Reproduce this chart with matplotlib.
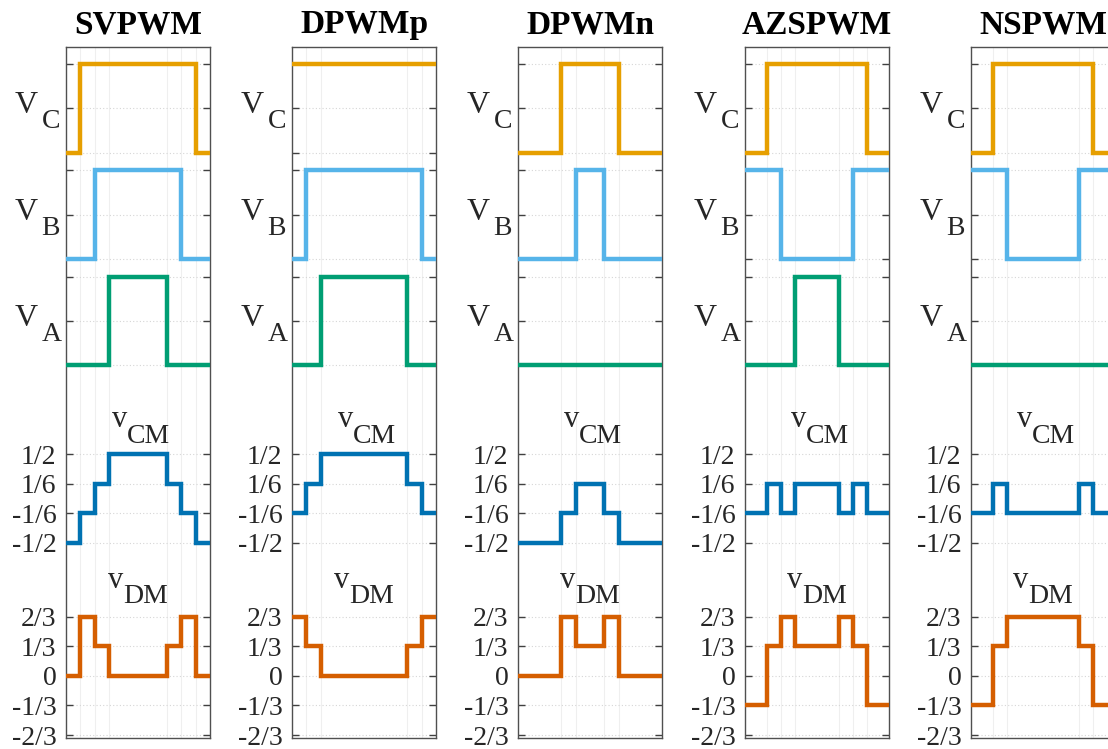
import matplotlib
matplotlib.use("Agg")
import matplotlib.pyplot as plt

plt.rcParams['font.family'] = ['Liberation Serif', 'DejaVu Serif']

# ---- data ----
schemes = ["SVPWM", "DPWMp", "DPWMn", "AZSPWM", "NSPWM"]

times = {
    "SVPWM":  [0, 0.1, 0.2, 0.3, 0.7, 0.8, 0.9, 1.0],
    "DPWMp":  [0, 0.1, 0.2, 0.8, 0.9, 1.0],
    "DPWMn":  [0, 0.3, 0.4, 0.6, 0.7, 1.0],
    "AZSPWM": [0, 0.15, 0.25, 0.35, 0.65, 0.75, 0.85, 1.0],
    "NSPWM":  [0, 0.15, 0.25, 0.75, 0.85, 1.0],
}
VC = {
    "SVPWM":  [0, 1, 1, 1, 1, 1, 0],
    "DPWMp":  [1, 1, 1, 1, 1],
    "DPWMn":  [0, 1, 1, 1, 0],
    "AZSPWM": [0, 1, 1, 1, 1, 1, 0],
    "NSPWM":  [0, 1, 1, 1, 0],
}
VB = {
    "SVPWM":  [0, 0, 1, 1, 1, 0, 0],
    "DPWMp":  [0, 1, 1, 1, 0],
    "DPWMn":  [0, 0, 1, 0, 0],
    "AZSPWM": [1, 1, 0, 0, 0, 1, 1],
    "NSPWM":  [1, 1, 0, 1, 1],
}
VA = {
    "SVPWM":  [0, 0, 0, 1, 0, 0, 0],
    "DPWMp":  [0, 0, 1, 0, 0],
    "DPWMn":  [0, 0, 0, 0, 0],
    "AZSPWM": [0, 0, 0, 1, 0, 0, 0],
    "NSPWM":  [0, 0, 0, 0, 0],
}
vCM = {
    "SVPWM":  [-1/2, -1/6, 1/6, 1/2, 1/6, -1/6, -1/2],
    "DPWMp":  [-1/6, 1/6, 1/2, 1/6, -1/6],
    "DPWMn":  [-1/2, -1/6, 1/6, -1/6, -1/2],
    "AZSPWM": [-1/6, 1/6, -1/6, 1/6, -1/6, 1/6, -1/6],
    "NSPWM":  [-1/6, 1/6, -1/6, 1/6, -1/6],
}
vDM = {
    "SVPWM":  [0, 2/3, 1/3, 0, 1/3, 2/3, 0],
    "DPWMp":  [2/3, 1/3, 0, 1/3, 2/3],
    "DPWMn":  [0, 2/3, 1/3, 2/3, 0],
    "AZSPWM": [-1/3, 1/3, 2/3, 1/3, 2/3, 1/3, -1/3],
    "NSPWM":  [-1/3, 1/3, 2/3, 1/3, -1/3],
}

dm_ticks = [-2/3, -1/3, 0, 1/3, 2/3]
dm_labels = ["-2/3", "-1/3", "0", "1/3", "2/3"]
cm_ticks = [-1/2, -1/6, 1/6, 1/2]
cm_labels = ["-1/2", "-1/6", "1/6", "1/2"]

# vertical placement (offsets) of each trace
off_CM = 2.0
off_A, off_B, off_C = 3.5, 4.7, 5.9

colors = {"C": "#E69F00", "B": "#56B4E9", "A": "#009E73",
          "CM": "#0072B2", "DM": "#D55E00"}

W, H = 1108, 749
fig = plt.figure(figsize=(W / 100, H / 100), dpi=100)

lefts = [66, 292, 518, 745, 971]
ax_w = 144
top_px, bot_px = 47, 738
txt = '#262626'

for i, s in enumerate(schemes):
    ax = fig.add_axes([lefts[i] / W, 1 - bot_px / H, ax_w / W, (bot_px - top_px) / H])
    t = times[s]

    def draw(levels, off, col):
        y = [v + off for v in levels] + [levels[-1] + off]
        ax.plot(t, y, drawstyle='steps-post', color=col, lw=3.2,
                solid_capstyle='butt', solid_joinstyle='miter', zorder=3)

    draw(VC[s], off_C, colors["C"])
    draw(VB[s], off_B, colors["B"])
    draw(VA[s], off_A, colors["A"])
    draw(vCM[s], off_CM, colors["CM"])
    draw(vDM[s], 0.0, colors["DM"])

    ax.set_xlim(0, 1)
    ax.set_ylim(-0.70, 7.09)

    v_ticks = []
    for o in (off_A, off_B, off_C):
        v_ticks += [o, o + 0.5, o + 1.0]
    yt = dm_ticks + [c + off_CM for c in cm_ticks] + v_ticks
    yl = dm_labels + cm_labels + [""] * len(v_ticks)
    ax.set_yticks(yt)
    ax.set_yticklabels(yl)
    ax.set_xticks(t[1:-1])
    ax.set_xticklabels([])

    ax.tick_params(axis='y', direction='in', left=True, right=True,
                   length=5, width=1, color='#404040', pad=7,
                   labelsize=20, labelcolor=txt)
    ax.tick_params(axis='x', length=0)
    ax.grid(axis='y', color='#d6d6d6', linestyle=(0, (1, 2)), lw=0.8, zorder=0)
    ax.grid(axis='x', color='#efefef', linestyle='-', lw=0.8, zorder=0)
    for sp in ax.spines.values():
        sp.set_color('#505050')
        sp.set_linewidth(1.0)

    ax.set_title(s, fontsize=24, fontweight='bold', pad=10)

    # V_x labels
    for lab, o in (("C", off_C), ("B", off_B), ("A", off_A)):
        ax.annotate("V", xy=(0, o + 0.5), xycoords=('axes fraction', 'data'),
                    xytext=(-20.5, -3.6), textcoords='offset points',
                    ha='right', va='baseline', fontsize=23, color=txt)
        ax.annotate(lab, xy=(0, o + 0.5), xycoords=('axes fraction', 'data'),
                    xytext=(-17.5, -14.4), textcoords='offset points',
                    ha='left', va='baseline', fontsize=20, color=txt)

    # v_CM / v_DM labels
    for sub, ref, dv, dsub, xv, xs in (("CM", 0.5 + off_CM, 19.5, 8.0, 0.32, 0.42),
                                        ("DM", 2/3, 20.5, 9.8, 0.29, 0.40)):
        ax.annotate("v", xy=(xv, ref), xycoords=('axes fraction', 'data'),
                    xytext=(0, dv), textcoords='offset points',
                    ha='left', va='baseline', fontsize=22, color=txt)
        ax.annotate(sub, xy=(xs, ref), xycoords=('axes fraction', 'data'),
                    xytext=(0, dsub), textcoords='offset points',
                    ha='left', va='baseline', fontsize=20, color=txt)

fig.savefig("out.png", dpi=100)
